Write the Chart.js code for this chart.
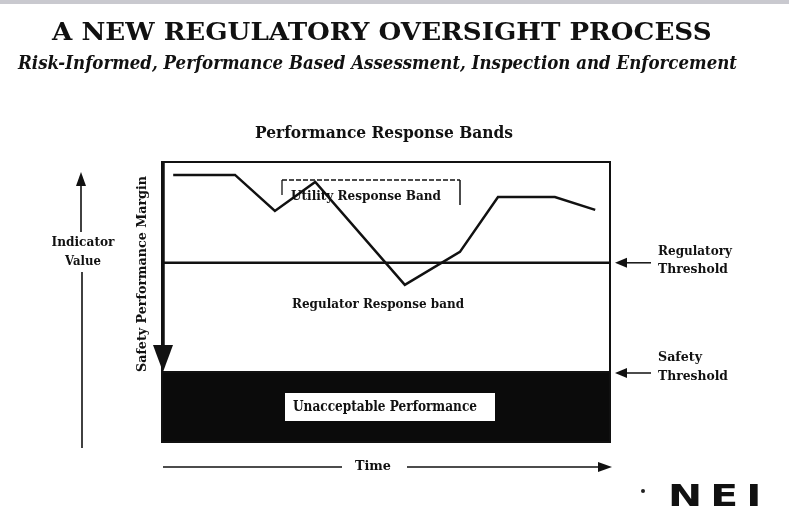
<!DOCTYPE html>
<html>
<head>
<meta charset="utf-8">
<title>Performance Response Bands</title>
<script src="https://cdn.jsdelivr.net/npm/chart.js@4.4.1/dist/chart.umd.min.js"></script>
<style>
    html, body { margin: 0; padding: 0; }
    body {
        width: 789px; height: 516px; overflow: hidden; position: relative; background: #fff;
    }
    #strip { position: absolute; left: 0; top: 0; width: 789px; height: 4px; background: #c9c9cf; }
    #chart { position: absolute; left: 0; top: 0; }
    .fit { position: absolute; white-space: nowrap; line-height: 1; transform-origin: 0 0; color: #111; }
    #title { font: bold 24px "DejaVu Serif", serif; left: 52px; top: 17px; }
    #subtitle { font: italic bold 18px "DejaVu Serif", serif; left: 18px; top: 52px; }
    #logo { font: 900 30px "DejaVu Sans", sans-serif; left: 668px; top: 478px; letter-spacing: 6px; }
    #dot { position: absolute; left: 641px; top: 489px; width: 4px; height: 4px; background: #222; border-radius: 2px; }
</style>
</head>
<body>
<div id="strip"></div>
<canvas id="chart" width="789" height="516"></canvas>
<div id="title" class="fit" data-w="660">A NEW REGULATORY OVERSIGHT PROCESS</div>
<div id="subtitle" class="fit" data-w="719">Risk-Informed, Performance Based Assessment, Inspection and Enforcement</div>
<div id="dot"></div>
<div id="logo" class="fit" data-w="102">NEI</div>

<script>
/* =====================================
   Chart data
===================================== */
const timePoints = [2.5, 16.3, 25.2, 34.2, 54.2, 66.5, 75.0, 87.7, 96.7];
const indicatorValues = [95.4, 95.4, 82.5, 92.9, 56.1, 67.9, 87.5, 87.5, 82.9];
const regulatoryThreshold = 64;
const safetyThreshold = 25;
const timeRange = [0, 100];
const valueRange = [0, 100];


/* =====================================
   Helpers
===================================== */
const SERIF = '"DejaVu Serif", serif';

function fitText(ctx, txt, cx, cy, width, font, color) {
    ctx.save();
    ctx.font = font;
    ctx.fillStyle = color || "#111";
    ctx.textAlign = "center";
    ctx.textBaseline = "middle";
    let m = ctx.measureText(txt).width;
    ctx.translate(cx, cy);
    ctx.scale(width / m, 1);
    ctx.fillText(txt, 0, 0);
    ctx.restore();
}

function line(ctx, x1, y1, x2, y2, w) {
    ctx.beginPath();
    ctx.lineWidth = w;
    ctx.moveTo(x1, y1);
    ctx.lineTo(x2, y2);
    ctx.stroke();
}

function head(ctx, tipX, tipY, dir, len, half) {
    // dir: "up", "down", "left", "right"
    ctx.beginPath();
    ctx.moveTo(tipX, tipY);
    if (dir === "up") { ctx.lineTo(tipX - half, tipY + len); ctx.lineTo(tipX + half, tipY + len); }
    if (dir === "down") { ctx.lineTo(tipX - half, tipY - len); ctx.lineTo(tipX + half, tipY - len); }
    if (dir === "left") { ctx.lineTo(tipX + len, tipY - half); ctx.lineTo(tipX + len, tipY + half); }
    if (dir === "right") { ctx.lineTo(tipX - len, tipY - half); ctx.lineTo(tipX - len, tipY + half); }
    ctx.closePath();
    ctx.fill();
}


/* =====================================
   Diagram annotations (frame, arrows, labels)
===================================== */
const diagramPlugin = {
    id: "diagram",
    afterDatasetsDraw(chart) {
        const ctx = chart.ctx;
        const a = chart.chartArea;
        const y = chart.scales.y;
        const regY = y.getPixelForValue(regulatoryThreshold);
        const safeY = y.getPixelForValue(safetyThreshold);

        ctx.save();
        ctx.strokeStyle = "#111";
        ctx.fillStyle = "#111";

        // frame
        ctx.lineWidth = 2;
        ctx.strokeRect(a.left, a.top, a.right - a.left, a.bottom - a.top);

        // safety performance margin arrow
        line(ctx, a.left + 1, a.top, a.left + 1, safeY - 20, 3.5);
        head(ctx, a.left + 1, safeY, "down", 27, 10);

        // threshold arrows on the right
        line(ctx, a.right + 41, regY, a.right + 14, regY, 1.5);
        head(ctx, a.right + 5, regY, "left", 12, 5);
        line(ctx, a.right + 41, safeY + 1, a.right + 14, safeY + 1, 1.5);
        head(ctx, a.right + 5, safeY + 1, "left", 12, 5);

        // utility response band bracket
        ctx.setLineDash([5, 2]);
        line(ctx, 282, 180, 460, 180, 1.3);
        ctx.setLineDash([]);
        line(ctx, 282, 180, 282, 195, 1.3);
        line(ctx, 460, 180, 460, 205, 1.5);

        // unacceptable performance box
        ctx.fillStyle = "#fff";
        ctx.fillRect(285, 393, 210, 28);
        ctx.fillStyle = "#111";

        // indicator value arrow
        line(ctx, 81, 184, 81, 232, 1.6);
        head(ctx, 81, 172, "up", 14, 5);
        line(ctx, 82, 272, 82, 448, 1.6);

        // time arrow
        line(ctx, a.left + 1, 467, 342, 467, 1.6);
        line(ctx, 407, 467, 600, 467, 1.6);
        head(ctx, 612, 467, "right", 14, 5);

        // labels
        fitText(ctx, "Performance Response Bands", 384, 134, 258, "bold 17px " + SERIF);
        fitText(ctx, "Utility Response Band", 366, 197, 150, "bold 13px " + SERIF);
        fitText(ctx, "Regulator Response band", 378, 305, 172, "bold 13px " + SERIF);
        fitText(ctx, "Unacceptable Performance", 385, 407, 184, "bold 14px " + SERIF);
        fitText(ctx, "Indicator", 83, 243, 63, "bold 13px " + SERIF);
        fitText(ctx, "Value", 83, 262, 36, "bold 13px " + SERIF);
        fitText(ctx, "Time", 373, 467, 36, "bold 13px " + SERIF);
        fitText(ctx, "Regulatory", 695, 252, 74, "bold 12px " + SERIF);
        fitText(ctx, "Threshold", 693, 270, 70, "bold 12px " + SERIF);
        fitText(ctx, "Safety", 680, 358, 44, "bold 12px " + SERIF);
        fitText(ctx, "Threshold", 693, 377, 70, "bold 12px " + SERIF);

        ctx.save();
        ctx.translate(143, 274);
        ctx.rotate(-Math.PI / 2);
        fitText(ctx, "Safety Performance Margin", 0, 0, 196, "bold 12px " + SERIF);
        ctx.restore();

        ctx.restore();
    }
};


/* =====================================
   Chart
===================================== */
const ctx = document.getElementById("chart");

new Chart(ctx, {
    type: "line",
    data: {
        datasets: [
            {
                label: "Unacceptable Performance",
                data: timeRange.map(t => ({ x: t, y: safetyThreshold })),
                borderColor: "#111",
                borderWidth: 2,
                backgroundColor: "#0b0b0b",
                fill: "origin",
                pointRadius: 0
            },
            {
                label: "Regulatory Threshold",
                data: timeRange.map(t => ({ x: t, y: regulatoryThreshold })),
                borderColor: "#111",
                borderWidth: 2.5,
                fill: false,
                pointRadius: 0
            },
            {
                label: "Indicator Value",
                data: timePoints.map((t, i) => ({ x: t, y: indicatorValues[i] })),
                borderColor: "#111",
                borderWidth: 2.5,
                fill: false,
                tension: 0,
                pointRadius: 0
            }
        ]
    },
    options: {
        responsive: false,
        animation: false,
        layout: { padding: { left: 162, right: 179, top: 162, bottom: 74 } },
        plugins: { legend: { display: false }, tooltip: { enabled: false } },
        scales: {
            x: { type: "linear", min: timeRange[0], max: timeRange[1], display: false },
            y: { type: "linear", min: valueRange[0], max: valueRange[1], display: false }
        }
    },
    plugins: [diagramPlugin]
});


/* =====================================
   Fit HTML headings to their widths
===================================== */
document.querySelectorAll(".fit").forEach(el => {
    let w = parseFloat(el.dataset.w);
    el.style.transform = "scaleX(" + (w / el.offsetWidth) + ")";
});
</script>
</body>
</html>
